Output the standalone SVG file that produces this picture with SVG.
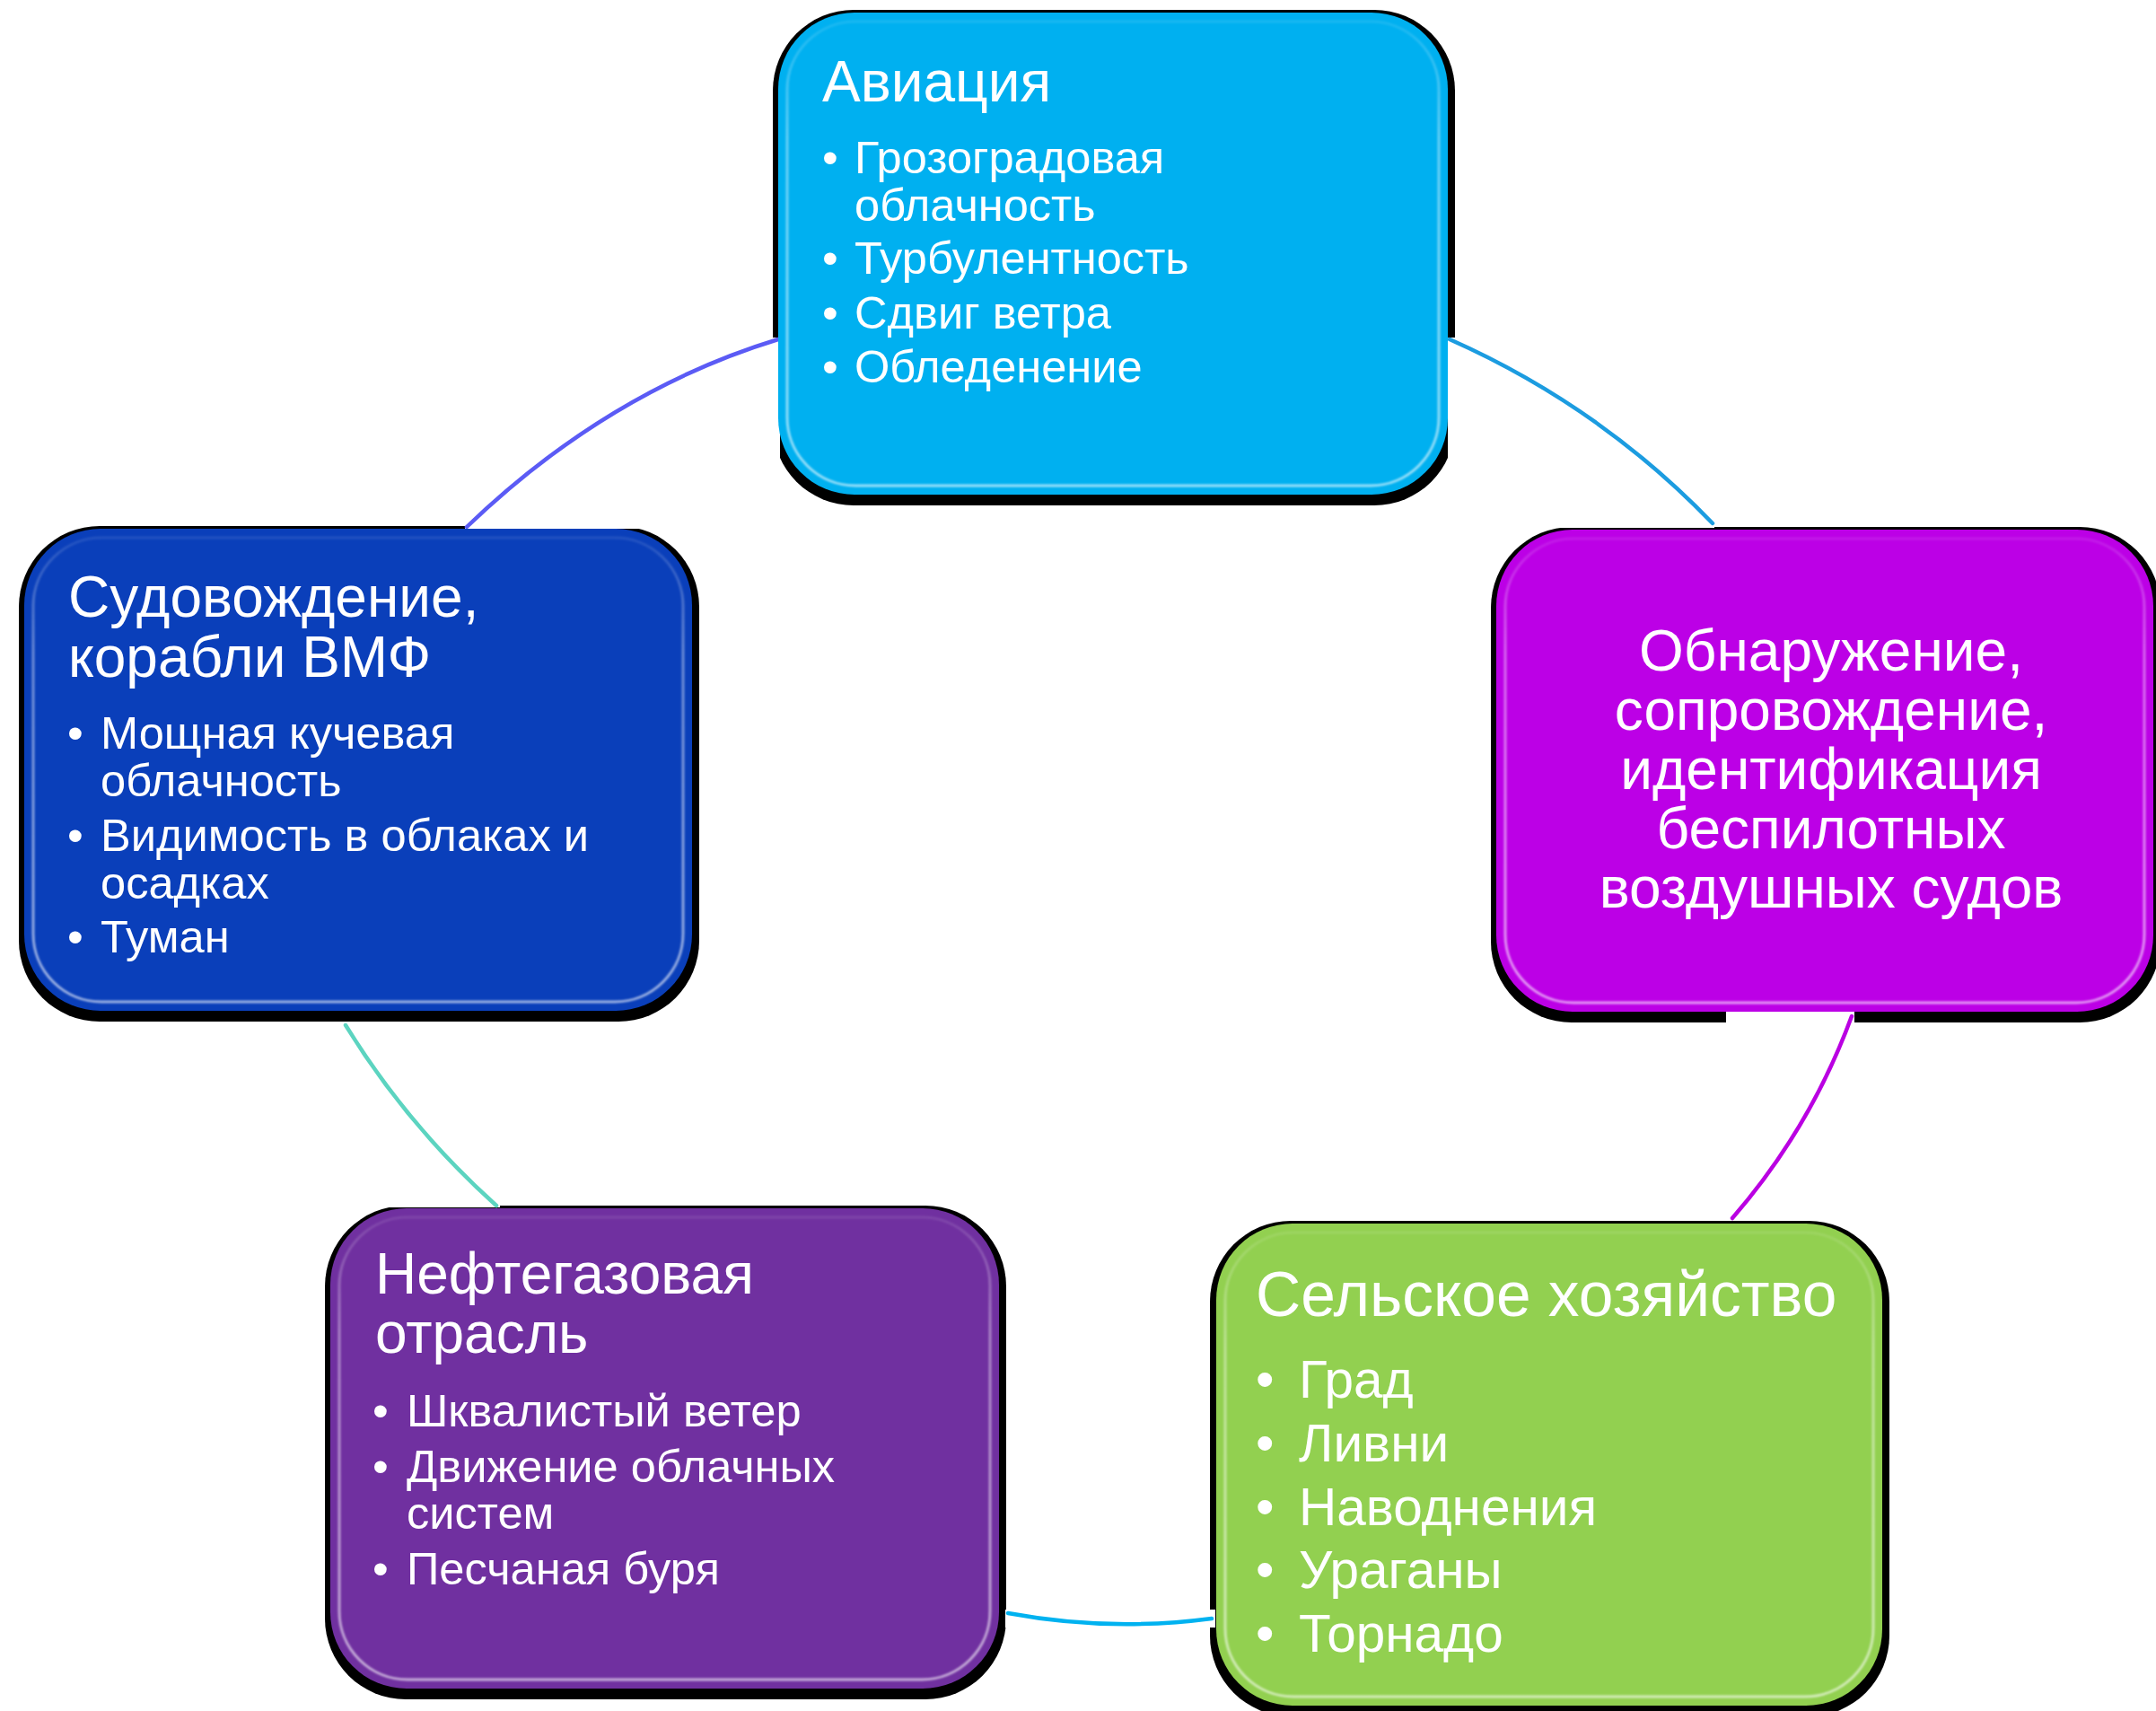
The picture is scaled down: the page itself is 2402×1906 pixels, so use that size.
<svg xmlns="http://www.w3.org/2000/svg" width="2402" height="1906" viewBox="0 0 2402 1906">
<style>
  .shadow { fill: #000000; }
  .hl { fill: none; stroke: url(#rim); stroke-width: 3; filter: url(#soft); }
  .t { font-family: "Liberation Sans", Arial, sans-serif; fill: #ffffff; }
  .title { font-size: 64px; }
  .item { font-size: 50.6px; }
  .gtitle { font-size: 69.5px; }
  .gitem { font-size: 58.5px; }
  .conn { fill: none; stroke-width: 4.5; stroke-linecap: round; }
  .knock { fill: #ffffff; }
</style>
<defs>
  <filter id="soft" x="-5%" y="-5%" width="110%" height="110%">
    <feGaussianBlur stdDeviation="1.2"/>
  </filter>
  <linearGradient id="rim" x1="0" y1="0" x2="0" y2="1">
    <stop offset="0" stop-color="#ffffff" stop-opacity="0.1"/>
    <stop offset="0.25" stop-color="#ffffff" stop-opacity="0.4"/>
    <stop offset="1" stop-color="#ffffff" stop-opacity="0.6"/>
  </linearGradient>
</defs>
<rect x="0" y="0" width="2402" height="1906" fill="#ffffff"/>

<g id="shadows">
  <rect class="shadow" x="861" y="11" width="760" height="552" rx="90"/>
  <rect class="shadow" x="1661" y="587" width="746" height="552" rx="90"/>
  <rect class="shadow" x="21" y="586" width="758" height="552" rx="90"/>
  <rect class="shadow" x="362" y="1343" width="759" height="550" rx="90"/>
  <rect class="shadow" x="1348" y="1360" width="757" height="552" rx="90"/>
</g>

<g id="connectors">
  <rect class="knock" x="518" y="376" width="351" height="213"/>
  <rect class="knock" x="381" y="1139" width="176" height="206"/>
  <rect class="knock" x="1120" y="1793" width="234" height="20"/>
  <rect class="knock" x="1923" y="1125" width="143" height="233"/>
  <rect class="knock" x="1613" y="376" width="297" height="212"/>
  <path class="conn" stroke="#5B5BF5" d="M520,587 Q677,436 867,378"/>
  <path class="conn" stroke="#5CD4C0" d="M385,1142 Q454,1254 553,1343"/>
  <path class="conn" stroke="#00B2F0" d="M1123,1797 Q1236,1818 1350,1803"/>
  <path class="conn" stroke="#BA00E2" d="M2063,1132 Q2017,1257 1930,1357"/>
  <path class="conn" stroke="#1C9CE0" d="M1615,378 Q1782,452 1908,583"/>
</g>

<g id="node-aviation">
  <rect x="867" y="14" width="746" height="537" rx="85" fill="#00B0F0"/>
  <rect class="hl" x="877" y="24" width="726" height="517" rx="76"/>
  <text class="t title" x="916" y="113">Авиация</text>
  <g class="t item">
    <text x="916" y="193">•</text><text x="952" y="193">Грозоградовая</text>
    <text x="952" y="246">облачность</text>
    <text x="916" y="305">•</text><text x="952" y="305">Турбулентность</text>
    <text x="916" y="366">•</text><text x="952" y="366">Сдвиг ветра</text>
    <text x="916" y="426">•</text><text x="952" y="426">Обледенение</text>
  </g>
</g>

<g id="node-detection">
  <rect x="1667" y="590" width="732" height="537" rx="85" fill="#BC00E6"/>
  <rect class="hl" x="1677" y="600" width="712" height="517" rx="76"/>
  <g class="t title" text-anchor="middle">
    <text x="2040" y="747">Обнаружение,</text>
    <text x="2040" y="813">сопровождение,</text>
    <text x="2040" y="879">идентификация</text>
    <text x="2040" y="945">беспилотных</text>
    <text x="2040" y="1011">воздушных судов</text>
  </g>
</g>

<g id="node-navigation">
  <rect x="27" y="589" width="744" height="537" rx="85" fill="#0A3FBA"/>
  <rect class="hl" x="37" y="599" width="724" height="517" rx="76"/>
  <g class="t title">
    <text x="76" y="687">Судовождение,</text>
    <text x="76" y="754">корабли ВМФ</text>
  </g>
  <g class="t item">
    <text x="75" y="834">•</text><text x="112" y="834">Мощная кучевая</text>
    <text x="112" y="887">облачность</text>
    <text x="75" y="948">•</text><text x="112" y="948">Видимость в облаках и</text>
    <text x="112" y="1001">осадках</text>
    <text x="75" y="1061">•</text><text x="112" y="1061">Туман</text>
  </g>
</g>

<g id="node-oilgas">
  <rect x="368" y="1346" width="745" height="535" rx="85" fill="#7030A0"/>
  <rect class="hl" x="378" y="1356" width="725" height="515" rx="76"/>
  <g class="t title">
    <text x="418" y="1441">Нефтегазовая</text>
    <text x="418" y="1507">отрасль</text>
  </g>
  <g class="t item">
    <text x="415" y="1589">•</text><text x="453" y="1589">Шквалистый ветер</text>
    <text x="415" y="1651">•</text><text x="453" y="1651">Движение облачных</text>
    <text x="453" y="1703">систем</text>
    <text x="415" y="1765">•</text><text x="453" y="1765">Песчаная буря</text>
  </g>
</g>

<g id="node-agriculture">
  <rect x="1355" y="1363" width="742" height="537" rx="85" fill="#92D050"/>
  <rect class="hl" x="1365" y="1373" width="722" height="517" rx="76"/>
  <text class="t gtitle" x="1399" y="1466">Сельское хозяйство</text>
  <g class="t gitem">
    <text x="1399" y="1557">•</text><text x="1447" y="1557">Град</text>
    <text x="1399" y="1628">•</text><text x="1447" y="1628">Ливни</text>
    <text x="1399" y="1699">•</text><text x="1447" y="1699">Наводнения</text>
    <text x="1399" y="1769">•</text><text x="1447" y="1769">Ураганы</text>
    <text x="1399" y="1840">•</text><text x="1447" y="1840">Торнадо</text>
  </g>
</g>
</svg>
